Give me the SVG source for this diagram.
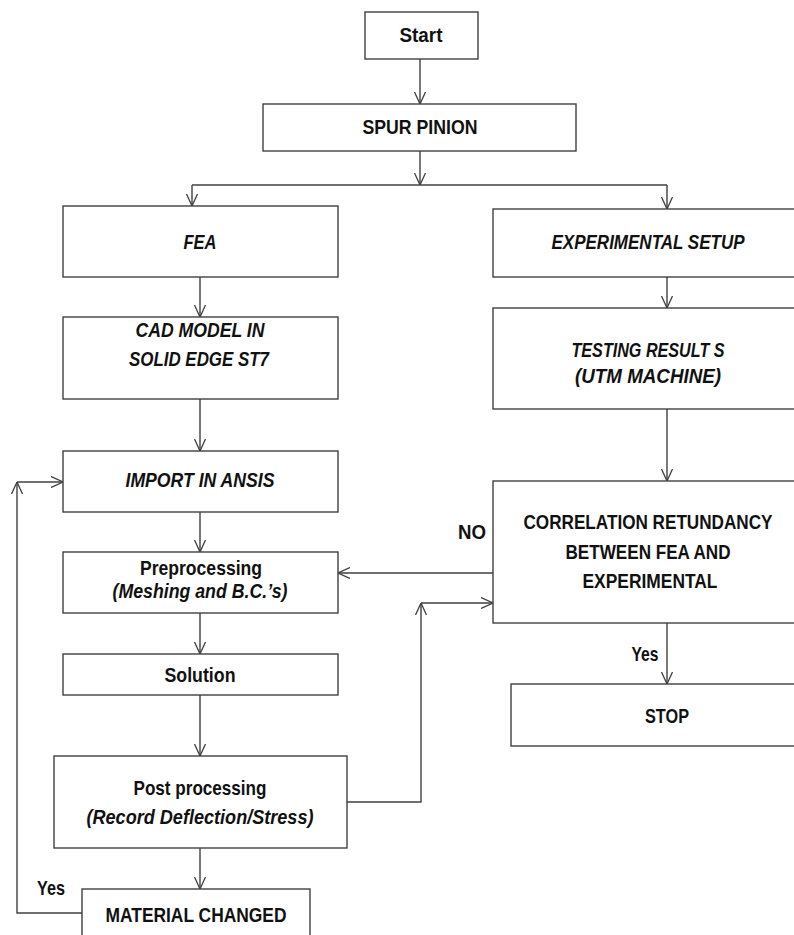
<svg xmlns="http://www.w3.org/2000/svg" width="794" height="935" viewBox="0 0 794 935">
<style>
.b{fill:#fff;stroke:#404040;stroke-width:1.4}
.c{fill:none;stroke:#404040;stroke-width:1.4}
text{font-family:"Liberation Sans",Arial,sans-serif;font-weight:bold;font-size:20.5px;fill:#111;text-anchor:middle}
.i{font-style:italic}
</style>
<defs>
<marker id="a" viewBox="0 0 12 12" refX="12" refY="6" markerWidth="12" markerHeight="12" orient="auto" markerUnits="userSpaceOnUse">
<path d="M0,0.5 L12,6 L0,11.5" fill="none" stroke="#404040" stroke-width="1.3"/>
</marker>
</defs>
<rect width="794" height="935" fill="#fff"/>
<g id="connectors">
<path class="c" d="M420,59 V104" marker-end="url(#a)"/>
<path class="c" d="M420,151 V185" marker-end="url(#a)"/>
<path class="c" d="M192,185 H667"/>
<path class="c" d="M192,185 V206" marker-end="url(#a)"/>
<path class="c" d="M667,185 V209" marker-end="url(#a)"/>
<path class="c" d="M200,277 V317" marker-end="url(#a)"/>
<path class="c" d="M200,399 V451" marker-end="url(#a)"/>
<path class="c" d="M200,512 V552" marker-end="url(#a)"/>
<path class="c" d="M200,613 V654" marker-end="url(#a)"/>
<path class="c" d="M200,695 V756" marker-end="url(#a)"/>
<path class="c" d="M200,848 V889" marker-end="url(#a)"/>
<path class="c" d="M82,913 H17 V482" marker-end="url(#a)"/>
<path class="c" d="M17,482 H63" marker-end="url(#a)"/>
<path class="c" d="M667,277 V308" marker-end="url(#a)"/>
<path class="c" d="M667,409 V481" marker-end="url(#a)"/>
<path class="c" d="M493,573 H338" marker-end="url(#a)"/>
<path class="c" d="M347,802 H421 V603" marker-end="url(#a)"/>
<path class="c" d="M421,603 H493" marker-end="url(#a)"/>
<path class="c" d="M667,623 V684" marker-end="url(#a)"/>
<text x="472" y="539" textLength="28" lengthAdjust="spacingAndGlyphs">NO</text>
<text x="645" y="661" textLength="27" lengthAdjust="spacingAndGlyphs">Yes</text>
<text x="51" y="895" textLength="28" lengthAdjust="spacingAndGlyphs">Yes</text>
</g>
<g id="start"><rect class="b" x="365" y="12" width="113" height="47"/><text x="421" y="42" textLength="43" lengthAdjust="spacingAndGlyphs">Start</text></g>
<g id="spur"><rect class="b" x="263" y="104" width="313" height="47"/><text x="420" y="134" textLength="115" lengthAdjust="spacingAndGlyphs">SPUR PINION</text></g>
<g id="fea"><rect class="b" x="63" y="206" width="275" height="71"/><text class="i" x="200" y="249" textLength="33" lengthAdjust="spacingAndGlyphs">FEA</text></g>
<g id="cad"><rect class="b" x="63" y="317" width="275" height="82"/><text class="i" x="200" y="337" textLength="129" lengthAdjust="spacingAndGlyphs">CAD MODEL IN</text><text class="i" x="199" y="366" textLength="140" lengthAdjust="spacingAndGlyphs">SOLID EDGE ST7</text></g>
<g id="import"><rect class="b" x="63" y="451" width="275" height="61"/><text class="i" x="200" y="487" textLength="149" lengthAdjust="spacingAndGlyphs">IMPORT IN ANSIS</text></g>
<g id="pre"><rect class="b" x="63" y="552" width="275" height="61"/><text x="201" y="575" textLength="122" lengthAdjust="spacingAndGlyphs">Preprocessing</text><text class="i" x="200" y="598" textLength="175" lengthAdjust="spacingAndGlyphs">(Meshing and B.C.’s)</text></g>
<g id="solution"><rect class="b" x="63" y="654" width="275" height="41"/><text x="200" y="682" textLength="71" lengthAdjust="spacingAndGlyphs">Solution</text></g>
<g id="post"><rect class="b" x="54" y="756" width="293" height="92"/><text x="200" y="795" textLength="133" lengthAdjust="spacingAndGlyphs">Post processing</text><text class="i" x="200" y="824" textLength="227" lengthAdjust="spacingAndGlyphs">(Record Deflection/Stress)</text></g>
<g id="material"><rect class="b" x="82" y="889" width="228" height="60"/><text x="196" y="922" textLength="181" lengthAdjust="spacingAndGlyphs">MATERIAL CHANGED</text></g>
<g id="exp"><rect class="b" x="493" y="209" width="310" height="68"/><text class="i" x="648" y="249" textLength="193" lengthAdjust="spacingAndGlyphs">EXPERIMENTAL SETUP</text></g>
<g id="test"><rect class="b" x="493" y="308" width="310" height="101"/><text class="i" x="648" y="357" textLength="153" lengthAdjust="spacingAndGlyphs">TESTING RESULT S</text><text class="i" x="648" y="383" textLength="146" lengthAdjust="spacingAndGlyphs">(UTM MACHINE)</text></g>
<g id="corr"><rect class="b" x="493" y="481" width="310" height="142"/><text x="648" y="529" textLength="249" lengthAdjust="spacingAndGlyphs">CORRELATION RETUNDANCY</text><text x="648" y="559" textLength="165" lengthAdjust="spacingAndGlyphs">BETWEEN FEA AND</text><text x="650" y="588" textLength="135" lengthAdjust="spacingAndGlyphs">EXPERIMENTAL</text></g>
<g id="stop"><rect class="b" x="511" y="684" width="300" height="62"/><text x="667" y="723" textLength="44" lengthAdjust="spacingAndGlyphs">STOP</text></g>
</svg>
